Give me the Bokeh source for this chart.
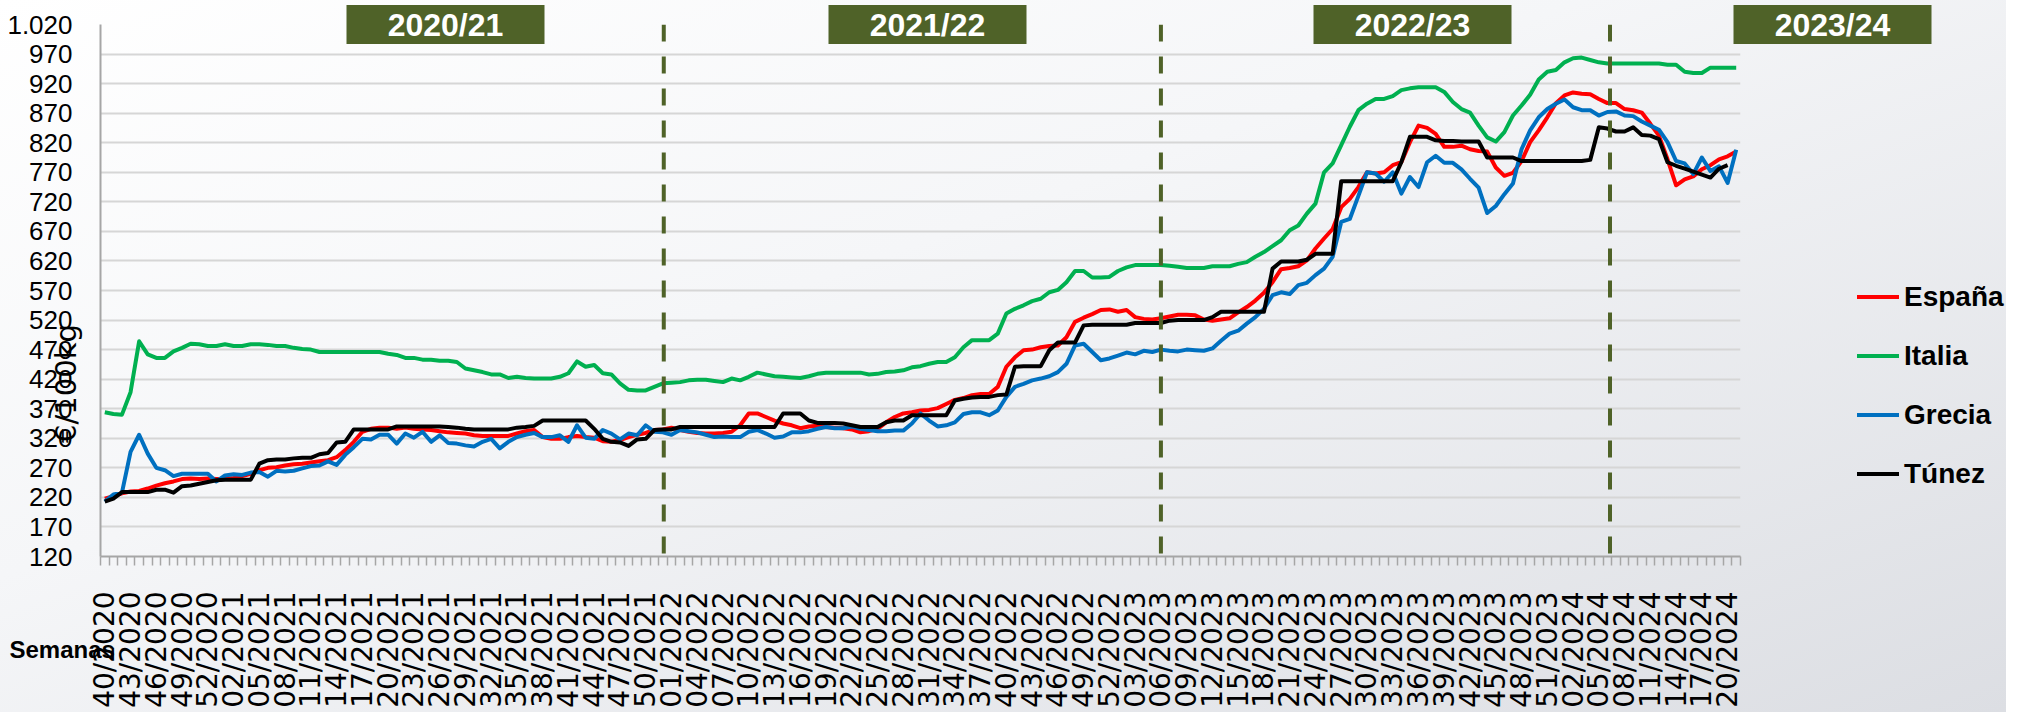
import math
from bokeh.plotting import figure
from bokeh.models import Range1d, FixedTicker, Span, Legend, LegendItem, GridBox
from bokeh.core.properties import value
from bokeh.embed import file_html
from bokeh.resources import INLINE

# ---- categories (ISO weeks) ----
week_spans = [(2020, 40, 53), (2021, 1, 52), (2022, 1, 52), (2023, 1, 52), (2024, 1, 21)]
weeks = [f"{w:02d}/{y}" for (y, a, b) in week_spans for w in range(a, b + 1)]

# ---- series (EUR/100kg) ----
espana = [218, 222, 227, 230, 231, 235, 240, 244, 247, 251,
          252, 251, 252, 251, 251, 253, 256, 260, 266, 270,
          271, 274, 276, 277, 279, 281, 283, 288, 300, 314,
          331, 336, 338, 338, 336, 338, 336, 335, 334, 332,
          330, 329, 328, 325, 324, 324, 324, 324, 328, 332,
          334, 322, 319, 319, 322, 324, 322, 321, 315, 314,
          317, 322, 326, 329, 334, 335, 338, 334, 331, 329,
          328, 328, 329, 331, 342, 362, 362, 356, 350, 345,
          342, 337, 340, 341, 339, 338, 337, 335, 330, 332,
          336, 347, 356, 362, 364, 367, 368, 371, 378, 385,
          388, 393, 395, 395, 407, 441, 457, 469, 470, 474,
          476, 477, 491, 517, 524, 530, 537, 538, 534, 537,
          525, 522, 521, 523, 526, 529, 529, 528, 521, 519,
          521, 523, 533, 542, 553, 566, 584, 606, 608, 611,
          621, 641, 658, 674, 711, 725, 745, 770, 768, 770,
          782, 787, 821, 849, 845, 835, 813, 813, 815, 809,
          806, 805, 778, 764, 769, 789, 821, 841, 863, 887,
          900, 905, 903, 902, 894, 887, 887, 877, 875, 871,
          852, 832, 792, 748, 758, 763, 775, 782, 792, 797, 805]

italia = [364, 361, 360, 398, 484, 462, 456, 456, 467, 473,
          480, 479, 476, 476, 479, 476, 476, 479, 479, 478,
          476, 476, 473, 471, 470, 466, 466, 466, 466, 466,
          466, 466, 466, 463, 461, 456, 456, 453, 453, 451,
          451, 449, 438, 435, 432, 428, 428, 422, 424, 422,
          421, 421, 421, 424, 430, 450, 441, 444, 430, 428,
          413, 402, 401, 401, 407, 413, 414, 415, 418, 419,
          419, 417, 415, 421, 418, 424, 431, 428, 425, 424,
          423, 422, 425, 429, 431, 431, 431, 431, 431, 428,
          429, 432, 433, 435, 440, 442, 446, 449, 449, 457,
          474, 486, 486, 486, 497, 531, 539, 545, 552, 556,
          567, 571, 584, 603, 603, 592, 592, 593, 603, 609,
          613, 613, 613, 613, 612, 610, 608, 608, 608, 611,
          611, 611, 615, 618, 627, 635, 645, 655, 672, 680,
          700, 717, 770, 785, 816, 847, 875, 886, 894, 894,
          899, 909, 912, 914, 914, 914, 906, 889, 877, 871,
          849, 829, 822, 838, 866, 883, 901, 927, 940, 943,
          956, 963, 964, 960, 956, 954, 954, 954, 954, 954,
          954, 954, 952, 952, 940, 938, 938, 947, 947, 947, 947]

grecia = [213, 225, 228, 297, 326, 294, 270, 266, 256, 260,
          260, 260, 260, 247, 257, 259, 258, 262, 263, 255,
          265, 264, 265, 269, 273, 274, 281, 275, 292, 305,
          319, 318, 326, 326, 311, 328, 321, 331, 314, 325,
          312, 311, 308, 306, 314, 319, 303, 314, 322, 326,
          329, 322, 322, 325, 314, 342, 321, 319, 334, 328,
          318, 328, 325, 342, 331, 330, 326, 334, 332, 330,
          326, 322, 323, 322, 322, 331, 334, 328, 321, 323,
          330, 330, 332, 336, 339, 337, 337, 340, 336, 334,
          332, 332, 333, 333, 345, 362, 350, 340, 342, 347,
          361, 364, 364, 359, 367, 390, 407, 412, 418, 421,
          425, 432, 446, 477, 480, 466, 452, 455, 460, 465,
          462, 468, 466, 470, 468, 467, 470, 469, 468, 472,
          485, 497, 502, 514, 525, 539, 562, 567, 564, 579,
          583, 596, 607, 627, 686, 691, 730, 770, 768, 754,
          770, 734, 762, 745, 787, 798, 786, 786, 775, 759,
          744, 701, 713, 733, 751, 809, 841, 863, 877, 886,
          893, 880, 875, 875, 866, 872, 873, 866, 865, 856,
          849, 842, 821, 789, 785, 767, 795, 772, 780, 752, 808]

tunez = [213, 218, 229, 229, 229, 229, 233, 233, 228, 239,
         240, 243, 246, 249, 250, 250, 250, 250, 277, 283,
         284, 284, 286, 287, 287, 293, 295, 313, 314, 335,
         335, 335, 335, 335, 340, 340, 340, 340, 340, 340,
         339, 338, 336, 335, 335, 335, 335, 335, 338, 339,
         341, 350, 350, 350, 350, 350, 350, 336, 319, 314,
         313, 307, 318, 319, 334, 335, 335, 339, 339, 339,
         339, 339, 339, 339, 339, 339, 339, 339, 339, 362,
         362, 362, 350, 346, 346, 346, 345, 342, 339, 339,
         339, 347, 350, 350, 359, 359, 359, 359, 359, 384,
         387, 389, 390, 390, 393, 394, 441, 442, 442, 442,
         469, 482, 482, 482, 511, 512, 512, 512, 512, 512,
         515, 515, 515, 515, 519, 520, 520, 520, 520, 525,
         534, 534, 534, 534, 534, 534, 607, 619, 619, 619,
         622, 632, 632, 632, 755, 755, 755, 755, 755, 755,
         755, 787, 830, 830, 830, 824, 823, 823, 822, 822,
         822, 795, 795, 795, 795, 789, 789, 789, 789, 789,
         789, 789, 789, 791, 846, 844, 839, 839, 846, 833,
         832, 826, 787, 781, 776, 771, 766, 761, 776, 782, float("nan")]

series_names = ["España", "Italia", "Grecia", "Túnez"]
series_colors = ["#FF0000", "#00B050", "#0070C0", "#000000"]

seasons = ["2020/21", "2021/22", "2022/23", "2023/24"]
season_breaks = [65.1, 123.0, 175.3]           # dashed separators (week-index units)

y_ticks = list(range(120, 1021, 50))
x_ticks = list(range(0, len(weeks), 3))

OLIVE = "#4F6228"
AXIS_GREY = "#A6A6A6"
W, H = 2006, 712

# ================= main chart =================
p = figure(width=W, height=H, output_backend="svg", toolbar_location=None,
           x_range=Range1d(-0.5, len(weeks) - 0.5), y_range=Range1d(120, 1020),
           min_border_left=100, min_border_right=266, min_border_top=24, min_border_bottom=156)
p.background_fill_alpha = 0
p.border_fill_alpha = 0
p.outline_line_color = None
p.styles = {"background": "linear-gradient(160deg, #ffffff 0%, #f5f6f8 40%, #dcdee3 100%)"}

xa = p.xaxis[0]
xa.ticker = FixedTicker(ticks=x_ticks, minor_ticks=[i - 0.5 for i in range(len(weeks) + 1)])
xa.major_label_overrides = {i: weeks[i] for i in x_ticks}
xa.major_label_orientation = math.pi / 2
xa.major_label_text_font = "DejaVu Sans"
xa.major_label_text_font_size = "28px"
xa.major_label_text_color = "#000000"
xa.major_label_standoff = 26
xa.major_tick_line_color = None
xa.major_tick_out = 0
xa.major_tick_in = 0
xa.minor_tick_line_color = AXIS_GREY
xa.minor_tick_line_width = 1.5
xa.minor_tick_out = 9
xa.minor_tick_in = 0
xa.axis_line_color = AXIS_GREY
xa.axis_line_width = 2

ya = p.yaxis[0]
ya.ticker = FixedTicker(ticks=y_ticks)
ya.major_label_overrides = {t: f"{t:,}".replace(",", ".") for t in y_ticks}
ya.major_label_text_font = "Liberation Sans"
ya.major_label_text_font_size = "26px"
ya.major_label_text_color = "#000000"
ya.major_label_standoff = 28
ya.major_tick_line_color = None
ya.major_tick_out = 0
ya.major_tick_in = 0
ya.minor_tick_line_color = None
ya.axis_line_color = AXIS_GREY
ya.axis_line_width = 2

p.xgrid.visible = False
p.ygrid.grid_line_color = "#D6D6D6"
p.ygrid.grid_line_width = 2

for b in season_breaks:
    p.add_layout(Span(location=b, dimension="height", line_color=OLIVE,
                      line_width=4, line_dash="17 15"))

xs = list(range(len(weeks)))
for name, vals, col in zip(series_names, [espana, italia, grecia, tunez], series_colors):
    p.line(xs, vals, line_color=col, line_width=4, line_join="round")

# ================= overlay (texts, legend, season boxes) =================
ov = figure(width=W, height=H, output_backend="svg", toolbar_location=None,
            x_range=Range1d(0, W), y_range=Range1d(0, H),
            x_axis_location=None, y_axis_location=None,
            min_border_left=0, min_border_right=0, min_border_top=0, min_border_bottom=0)
ov.background_fill_alpha = 0
ov.border_fill_alpha = 0
ov.outline_line_color = None
ov.xgrid.visible = False
ov.ygrid.visible = False

# do not let the grid layout align the two frames
for fig in (p, ov):
    if "frame_align" in fig.properties():
        fig.frame_align = False

# season boxes (pixel layout of the page)
box_cx = [445, 927, 1412, 1832]
box_cy = [H - 24] * 4
ov.rect(x=box_cx, y=box_cy, width=198, height=39, fill_color=OLIVE, line_color=None)
ov.text(x=box_cx, y=box_cy, text=seasons, text_align="center", text_baseline="middle",
        text_font=value("Liberation Sans"), text_font_style="bold", text_font_size="32px",
        text_color="#FFFFFF")

# axis titles
ov.text(x=[65], y=[H - 383], text=["€/100kg"], angle=math.pi / 2,
        text_align="center", text_baseline="middle",
        text_font=value("DejaVu Sans"), text_font_size="29px", text_color="#000000")
ov.text(x=[9], y=[H - 649], text=["Semanas"], text_align="left", text_baseline="middle",
        text_font=value("Liberation Sans"), text_font_style="bold", text_font_size="24px",
        text_color="#000000")

# legend (proxy lines kept outside the visible area)
dummies = [ov.line(x=[-50, -40], y=[-50, -50], line_color=c, line_width=4, line_cap="round")
           for c in series_colors]
legend = Legend(items=[LegendItem(label=n, renderers=[r]) for n, r in zip(series_names, dummies)],
                location=(1857, 221), orientation="vertical",
                padding=0, margin=0, spacing=24,
                glyph_width=42, glyph_height=35, label_height=35, label_standoff=5,
                label_text_font="Liberation Sans", label_text_font_style="bold",
                label_text_font_size="28px", label_text_color="#000000",
                border_line_alpha=0, background_fill_alpha=0)
ov.add_layout(legend, "center")

layout = GridBox(children=[(p, 0, 0), (ov, 0, 0)])
open("out.html", "w").write(file_html(layout, INLINE))
